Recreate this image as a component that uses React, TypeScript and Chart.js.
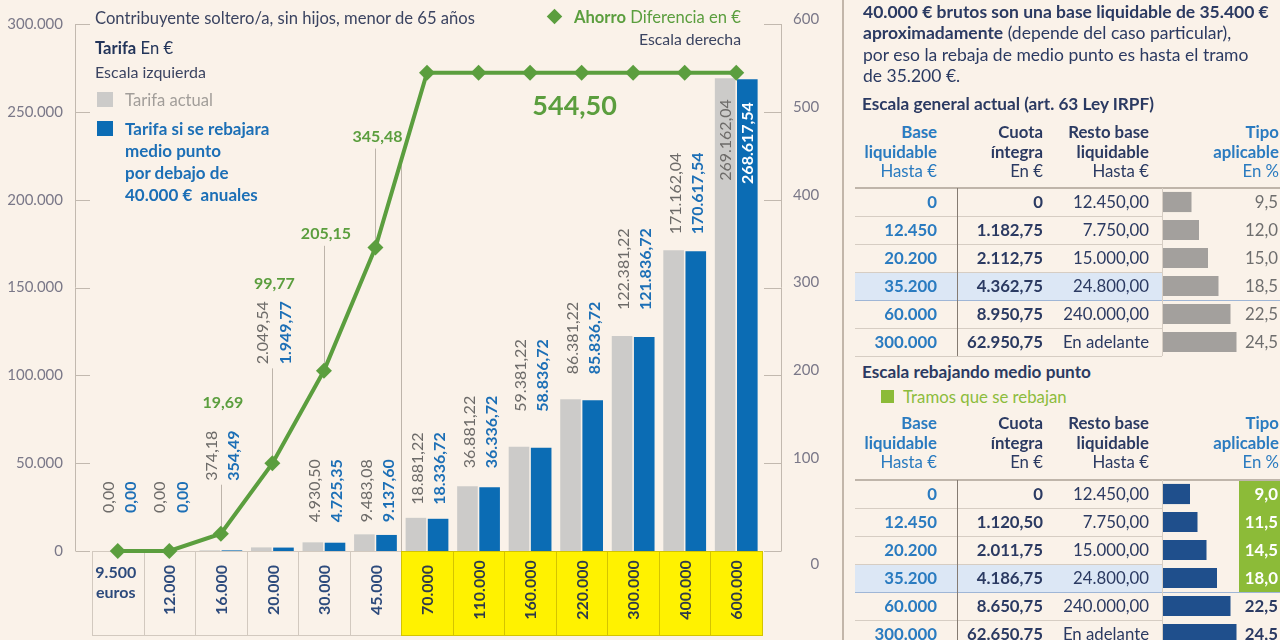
import React, { useEffect, useRef } from 'react';
import { Chart, registerables } from 'chart.js';

Chart.register(...registerables);

// ---------- DATA ----------
const categories = ['9.500', '12.000', '16.000', '20.000', '30.000', '45.000', '70.000', '110.000', '160.000', '220.000', '300.000', '400.000', '600.000'];
const tarifaActual = [0, 0, 374.18, 2049.54, 4930.5, 9483.08, 18881.22, 36881.22, 59381.22, 86381.22, 122381.22, 171162.04, 269162.04];
const tarifaRebajada = [0, 0, 354.49, 1949.77, 4725.35, 9137.6, 18336.72, 36336.72, 58836.72, 85836.72, 121836.72, 170617.54, 268617.54];
const ahorro = [0, 0, 19.69, 99.77, 205.15, 345.48, 544.5, 544.5, 544.5, 544.5, 544.5, 544.5, 544.5];
const leftMax = 300000;
const leftStep = 50000;
const rightMax = 600;
const rightStep = 100;

const tramoBase = [0, 12450, 20200, 35200, 60000, 300000];
const restoBase: (number | null)[] = [12450, 7750, 15000, 24800, 240000, null];
const cuotaActual = [0, 1182.75, 2112.75, 4362.75, 8950.75, 62950.75];
const tipoActual = [9.5, 12.0, 15.0, 18.5, 22.5, 24.5];
const cuotaRebajada = [0, 1120.5, 2011.75, 4186.75, 8650.75, 62650.75];
const tipoRebajado = [9.0, 11.5, 14.5, 18.0, 22.5, 24.5];

// ---------- STYLE / LAYOUT ----------
const FONT = 'Lato, "Open Sans", "Noto Sans", sans-serif';
const BG = '#faf2e9';
const GREEN = '#5b9e3e';
const GREY = '#cccbc9';
const BLUE = '#0b6cb4';
const BLUE_TXT = '#1c6fb6';
const GREY_TXT = '#6d6b69';
const AXIS_TXT = '#7a7888';
const AXIS_LINE = '#c2b9af';
const NAVY = '#2b3a62';
const LBLUE = '#2a7bc0';
const YELLOW = '#fff200';
const LIME = '#8cbb38';
const PANEL_SIZE = 17.5;
const CELL_SIZE = 16.8;

const LABEL_GAP = [0, 0, 0, 0, 20, 12, 13, 18, 35, 25, 26, 16, 0];
const ABOVE_POINT: Record<number, number> = { 0: 38, 1: 38, 2: 53, 3: 99 };
const SAVING_LIFT: Record<number, number> = { 2: 131, 3: 180, 4: 137, 5: 111 };
const INSIDE_LIMIT = 200000;

const maxAhorro = Math.max(...ahorro);
const isPlateau = (i: number) => ahorro[i] === maxAhorro;
const firstPlateau = ahorro.findIndex((v) => v === maxAhorro);

const fmt2 = (v: number) => {
  const [i, d] = v.toFixed(2).split('.');
  return i.replace(/\B(?=(\d{3})+(?!\d))/g, '.') + ',' + d;
};
const fmtInt = (v: number) => String(Math.round(v)).replace(/\B(?=(\d{3})+(?!\d))/g, '.');
const fmt1 = (v: number) => v.toFixed(1).replace('.', ',');

function drawRot(ctx: CanvasRenderingContext2D, text: string, x: number, y: number, align: CanvasTextAlign, color: string, weight: number) {
  ctx.save();
  ctx.translate(x, y);
  ctx.rotate(-Math.PI / 2);
  ctx.font = `${weight} 16px ${FONT}`;
  ctx.fillStyle = color;
  ctx.textAlign = align;
  ctx.textBaseline = 'middle';
  ctx.fillText(text, 0, 0);
  ctx.restore();
}

const decorPlugin = {
  id: 'decor',
  beforeDatasetsDraw(chart: any) {
    const { ctx, chartArea, scales } = chart;
    const { left, right } = chartArea;
    const x = scales.x, y = scales.y, y2 = scales.y2;
    const pts = chart.getDatasetMeta(0).data;
    const w = x.getPixelForValue(1) - x.getPixelForValue(0);
    const y0 = Math.round(y.getPixelForValue(0));
    const boxH = 84;
    ctx.save();
    categories.forEach((c, i) => {
      const cx = x.getPixelForValue(i);
      const x0 = Math.round(cx - w / 2) + 0.5;
      const x1 = Math.round(cx + w / 2) + 0.5;
      const high = isPlateau(i);
      if (high) {
        ctx.fillStyle = YELLOW;
        ctx.fillRect(x0, y0, x1 - x0, boxH);
      }
      ctx.strokeStyle = high ? '#d4c400' : '#d2c9bf';
      ctx.lineWidth = 1;
      ctx.strokeRect(x0, y0 + 0.5, x1 - x0, boxH);
      const col = high ? '#2e3a4a' : '#2c4a7c';
      if (i === 0) {
        ctx.fillStyle = col;
        ctx.font = `700 16px ${FONT}`;
        ctx.textAlign = 'center';
        ctx.textBaseline = 'middle';
        ctx.fillText(c, cx - 2, y0 + 22);
        ctx.fillText('euros', cx - 2, y0 + 42);
      } else {
        ctx.save();
        ctx.translate(cx + 1, y0 + 39);
        ctx.rotate(-Math.PI / 2);
        ctx.fillStyle = col;
        ctx.font = `700 16px ${FONT}`;
        ctx.textAlign = 'center';
        ctx.textBaseline = 'middle';
        ctx.fillText(c, 0, 0);
        ctx.restore();
      }
    });
    ctx.strokeStyle = AXIS_LINE;
    ctx.lineWidth = 1;
    ctx.beginPath();
    const ax = Math.round(left - 17) + 0.5;
    ctx.moveTo(ax, y.getPixelForValue(leftMax));
    ctx.lineTo(ax, y.getPixelForValue(0));
    y.ticks.forEach((t: any) => {
      const py = Math.round(y.getPixelForValue(t.value)) + 0.5;
      ctx.moveTo(ax, py);
      ctx.lineTo(left - 2, py);
    });
    const bx = Math.round(right + 19) + 0.5;
    ctx.moveTo(bx, y2.getPixelForValue(rightMax));
    ctx.lineTo(bx, y2.getPixelForValue(0));
    y2.ticks.forEach((t: any) => {
      const py = Math.round(y2.getPixelForValue(t.value)) + 0.5;
      ctx.moveTo(right + 2, py);
      ctx.lineTo(bx, py);
    });
    ctx.stroke();
    ctx.strokeStyle = '#bdb4aa';
    ctx.beginPath();
    Object.keys(SAVING_LIFT).forEach((k) => {
      const i = Number(k);
      const p = pts[i];
      const top = i in ABOVE_POINT ? p.y - ABOVE_POINT[i] + 4 : p.y - SAVING_LIFT[i] + 12;
      const px = Math.round(p.x) + 0.5;
      ctx.moveTo(px, top);
      ctx.lineTo(px, p.y);
    });
    const k = firstPlateau;
    if (k > 0) {
      const sx = Math.round((x.getPixelForValue(k - 1) + x.getPixelForValue(k)) / 2) + 0.5;
      const sy = (pts[k - 1].y + pts[k].y) / 2;
      ctx.moveTo(sx, sy);
      ctx.lineTo(sx, y0);
    }
    ctx.stroke();
    ctx.restore();
  },
  afterDatasetDraw(chart: any, args: any) {
    if (args.index !== 1) return;
    const ctx = chart.ctx;
    const g = chart.getDatasetMeta(1).data;
    const b = chart.getDatasetMeta(2).data;
    const p = chart.getDatasetMeta(0).data;
    categories.forEach((_, i) => {
      if (tarifaActual[i] > INSIDE_LIMIT) {
        drawRot(ctx, fmt2(tarifaActual[i]), g[i].x + 1, g[i].y + 21, 'right', GREY_TXT, 400);
        drawRot(ctx, fmt2(tarifaRebajada[i]), b[i].x + 1, b[i].y + 23, 'right', '#ffffff', 700);
      } else {
        const start = i in ABOVE_POINT ? p[i].y - ABOVE_POINT[i] : g[i].y - LABEL_GAP[i];
        drawRot(ctx, fmt2(tarifaActual[i]), g[i].x + 2, start, 'left', GREY_TXT, 400);
        drawRot(ctx, fmt2(tarifaRebajada[i]), b[i].x + 2, start, 'left', BLUE_TXT, 700);
      }
    });
  },
  afterDraw(chart: any) {
    const { ctx, scales } = chart;
    const p = chart.getDatasetMeta(0).data;
    ctx.save();
    ctx.fillStyle = GREEN;
    ctx.textAlign = 'center';
    ctx.textBaseline = 'middle';
    ctx.font = `700 16px ${FONT}`;
    Object.keys(SAVING_LIFT).forEach((k) => {
      const i = Number(k);
      ctx.fillText(fmt2(ahorro[i]), p[i].x + 2, p[i].y - SAVING_LIFT[i]);
    });
    const k = firstPlateau;
    const last = categories.length - 1;
    ctx.font = `700 27px ${FONT}`;
    ctx.fillText(fmt2(ahorro[last]), (p[k].x + p[last].x) / 2 - 7, p[k].y + 34);
    const y2 = scales.y2;
    ctx.font = `400 15px ${FONT}`;
    const w600 = ctx.measureText(String(rightMax)).width;
    ctx.fillStyle = AXIS_TXT;
    ctx.textAlign = 'right';
    ctx.fillText('0', y2.left + 31 + w600, y2.getPixelForValue(0) + 13);
    ctx.restore();
  },
};

function MainChart() {
  const ref = useRef<HTMLCanvasElement>(null);
  useEffect(() => {
    const chart = new Chart(ref.current as HTMLCanvasElement, {
      type: 'bar',
      data: {
        labels: categories,
        datasets: [
          {
            type: 'line',
            label: 'Ahorro',
            data: ahorro,
            yAxisID: 'y2',
            borderColor: GREEN,
            backgroundColor: GREEN,
            borderWidth: 4,
            pointStyle: 'rectRot',
            pointRadius: 8,
            pointBackgroundColor: GREEN,
            pointBorderColor: GREEN,
            pointBorderWidth: 0,
            tension: 0,
            order: 0,
            clip: false,
          } as any,
          {
            type: 'bar',
            label: 'Tarifa actual',
            data: tarifaActual,
            yAxisID: 'y',
            backgroundColor: GREY,
            categoryPercentage: 0.86,
            barPercentage: 0.93,
            order: 1,
          },
          {
            type: 'bar',
            label: 'Tarifa si se rebajara medio punto',
            data: tarifaRebajada,
            yAxisID: 'y',
            backgroundColor: BLUE,
            categoryPercentage: 0.86,
            barPercentage: 0.93,
            order: 2,
          },
        ],
      },
      options: {
        responsive: false,
        animation: false,
        events: [],
        layout: { padding: { top: 24, left: 0, right: 0, bottom: 0 } },
        plugins: { legend: { display: false }, tooltip: { enabled: false } },
        scales: {
          x: {
            grid: { display: false, drawTicks: false },
            border: { display: false },
            ticks: { display: false },
            afterFit: (s: any) => { s.height = 89; },
          },
          y: {
            position: 'left',
            min: 0,
            max: leftMax,
            grid: { display: false, drawTicks: true, tickLength: 29 },
            border: { display: false },
            ticks: {
              stepSize: leftStep,
              padding: 0,
              color: AXIS_TXT,
              font: { family: FONT, size: 15 },
              callback: (v: any) => fmtInt(Number(v)),
            },
            afterFit: (s: any) => { s.width = 92; },
          },
          y2: {
            position: 'right',
            min: 0,
            max: rightMax,
            grid: { display: false, drawTicks: true, tickLength: 31 },
            border: { display: false },
            ticks: {
              stepSize: rightStep,
              padding: 0,
              labelOffset: -5,
              color: AXIS_TXT,
              font: { family: FONT, size: 15 },
              callback: (v: any) => (Number(v) === 0 ? '' : String(v)),
            },
            afterFit: (s: any) => { s.width = 81; },
          },
        } as any,
      },
      plugins: [decorPlugin],
    });
    return () => chart.destroy();
  }, []);
  return <canvas ref={ref} width={843} height={640} style={{ position: 'absolute', left: 0, top: 0, width: 843, height: 640 }} />;
}

function MiniBars({ values, color, top }: { values: number[]; color: string; top: number }) {
  const ref = useRef<HTMLCanvasElement>(null);
  useEffect(() => {
    const c = new Chart(ref.current as HTMLCanvasElement, {
      type: 'bar',
      data: {
        labels: tramoBase.map(fmtInt),
        datasets: [{ data: values, backgroundColor: color, categoryPercentage: 1, barPercentage: 0.72 }],
      },
      options: {
        indexAxis: 'y',
        responsive: false,
        animation: false,
        events: [],
        layout: { padding: 0 },
        plugins: { legend: { display: false }, tooltip: { enabled: false } },
        scales: { x: { display: false, min: 0, max: 25 }, y: { display: false } },
      },
    });
    return () => c.destroy();
  }, []);
  return <canvas ref={ref} width={75} height={168} style={{ position: 'absolute', left: 1163, top, width: 75, height: 168 }} />;
}

type TxtProps = { x: number; y: number; children: any; size?: number; weight?: number; color?: string; align?: 'left' | 'right' | 'center' };
function Txt({ x, y, children, size = 16, weight = 400, color = NAVY, align = 'left' }: TxtProps) {
  const lh = 20;
  const style: any = {
    position: 'absolute',
    top: y - lh / 2,
    fontSize: size,
    fontWeight: weight,
    color,
    lineHeight: lh + 'px',
    whiteSpace: 'pre',
    fontFamily: FONT,
  };
  if (align === 'right') style.right = 1280 - x;
  else if (align === 'center') { style.left = x; style.transform = 'translateX(-50%)'; }
  else style.left = x;
  return <div style={style}>{children}</div>;
}

function Line({ x, y, w, h, color }: { x: number; y: number; w: number; h: number; color: string }) {
  return <div style={{ position: 'absolute', left: x, top: y, width: w, height: h, background: color }} />;
}

function RateTable({ headerY, ruleY, cuotas, tipos, barColor, reference }: { headerY: number; ruleY: number; cuotas: number[]; tipos: number[]; barColor: string; reference?: number[] }) {
  const rowH = 28;
  const hl = tramoBase.indexOf(35200);
  const els: any[] = [];
  els.push(<div key="hl" style={{ position: 'absolute', left: 855, top: ruleY + hl * rowH, width: 307, height: rowH, background: '#dce7f5' }} />);
  if (reference) {
    tipos.forEach((t, i) => {
      if (t < reference[i]) els.push(<div key={'g' + i} style={{ position: 'absolute', left: 1239, top: ruleY + i * rowH, width: 41, height: rowH, background: LIME }} />);
    });
  }
  const hdr = [
    { x: 937, c: LBLUE, l: ['Base', 'liquidable', 'Hasta €'] },
    { x: 1043, c: NAVY, l: ['Cuota', 'íntegra', 'En €'] },
    { x: 1149, c: NAVY, l: ['Resto base', 'liquidable', 'Hasta €'] },
    { x: 1279, c: LBLUE, l: ['Tipo', 'aplicable', 'En %'] },
  ];
  hdr.forEach((h, j) => {
    h.l.forEach((t, k) => {
      els.push(<Txt key={`h${j}${k}`} x={h.x} y={headerY + k * 19.5} size={CELL_SIZE} align="right" weight={k < 2 ? 700 : 400} color={h.c}>{t}</Txt>);
    });
  });
  els.push(<Line key="top" x={855} y={ruleY - 1} w={425} h={2} color="#bfb5aa" />);
  for (let i = 1; i <= 6; i++) {
    const full = i === hl + 1;
    els.push(<Line key={'r' + i} x={855} y={ruleY + i * rowH} w={full ? 425 : 307} h={1} color={full ? '#9fb6d6' : '#d6cdc3'} />);
  }
  els.push(<Line key="v1" x={957} y={ruleY} w={1} h={6 * rowH} color="#857b72" />);
  els.push(<Line key="v2" x={1162} y={ruleY} w={1} h={6 * rowH} color="#d6cdc3" />);
  tramoBase.forEach((b, i) => {
    const cy = ruleY + 14 + i * rowH;
    els.push(<Txt key={'b' + i} x={937} y={cy} size={CELL_SIZE} align="right" weight={700} color={LBLUE}>{fmtInt(b)}</Txt>);
    els.push(<Txt key={'c' + i} x={1043} y={cy} size={CELL_SIZE} align="right" weight={700} color={NAVY}>{cuotas[i] === 0 ? '0' : fmt2(cuotas[i])}</Txt>);
    const r = restoBase[i];
    els.push(<Txt key={'s' + i} x={1149} y={cy} size={CELL_SIZE} align="right" color={NAVY}>{r === null ? 'En adelante' : fmt2(r)}</Txt>);
    let col = '#6e6e6e', wt = 400;
    if (reference) {
      wt = 700;
      col = tipos[i] < reference[i] ? '#ffffff' : NAVY;
    }
    els.push(<Txt key={'t' + i} x={1278} y={cy} size={CELL_SIZE} align="right" weight={wt} color={col}>{fmt1(tipos[i])}</Txt>);
  });
  els.push(<MiniBars key="mb" values={tipos} color={barColor} top={ruleY} />);
  return <>{els}</>;
}

export default function App() {
  return (
    <div style={{ position: 'fixed', left: 0, top: 0, width: 1280, height: 640, background: BG, overflow: 'hidden', fontFamily: FONT }}>
      <MainChart />
      <Txt x={95} y={18} size={16.6} color="#3b4461">Contribuyente soltero/a, sin hijos, menor de 65 años</Txt>
      <Txt x={95} y={48} size={16.6} color="#23355a"><b>Tarifa</b> En €</Txt>
      <Txt x={95} y={72} size={16} color="#3b4461">Escala izquierda</Txt>
      <div style={{ position: 'absolute', left: 97, top: 92, width: 16, height: 15, background: GREY }} />
      <Txt x={125} y={100} size={16.6} color="#a29e9a">Tarifa actual</Txt>
      <div style={{ position: 'absolute', left: 97, top: 121, width: 16, height: 15, background: BLUE }} />
      <Txt x={125} y={129} size={17} weight={700} color={BLUE_TXT}>Tarifa si se rebajara</Txt>
      <Txt x={125} y={151} size={17} weight={700} color={BLUE_TXT}>medio punto</Txt>
      <Txt x={125} y={173} size={17} weight={700} color={BLUE_TXT}>por debajo de</Txt>
      <Txt x={125} y={195} size={17} weight={700} color={BLUE_TXT}>{'40.000 €  anuales'}</Txt>
      <div style={{ position: 'absolute', left: 549, top: 11, width: 11, height: 11, background: GREEN, transform: 'rotate(45deg)' }} />
      <Txt x={741} y={17} size={16.6} align="right" color={GREEN}><b>Ahorro</b> Diferencia en €</Txt>
      <Txt x={741} y={39} size={15.8} align="right" color="#3b4461">Escala derecha</Txt>

      <Line x={842} y={0} w={2} h={640} color="#c2b6aa" />
      <Txt x={863} y={12} size={PANEL_SIZE} weight={700} color={NAVY}>40.000 € brutos son una base liquidable de 35.400 €</Txt>
      <Txt x={863} y={33} size={PANEL_SIZE} color={NAVY}><b>aproximadamente</b> (depende del caso particular),</Txt>
      <Txt x={863} y={55} size={PANEL_SIZE} color={NAVY}>por eso la rebaja de medio punto es hasta el tramo</Txt>
      <Txt x={863} y={76} size={PANEL_SIZE} color={NAVY}>de 35.200 €.</Txt>
      <Txt x={862} y={104} size={17.2} weight={700} color={NAVY}>Escala general actual (art. 63 Ley IRPF)</Txt>
      <RateTable headerY={132} ruleY={188} cuotas={cuotaActual} tipos={tipoActual} barColor="#a3a09d" />
      <Txt x={862} y={372} size={17.2} weight={700} color={NAVY}>Escala rebajando medio punto</Txt>
      <div style={{ position: 'absolute', left: 881, top: 390, width: 13, height: 13, background: LIME }} />
      <Txt x={903} y={397} size={CELL_SIZE} color="#8cbc3c">Tramos que se rebajan</Txt>
      <RateTable headerY={423} ruleY={480} cuotas={cuotaRebajada} tipos={tipoRebajado} barColor="#1f4f8c" reference={tipoActual} />
    </div>
  );
}
